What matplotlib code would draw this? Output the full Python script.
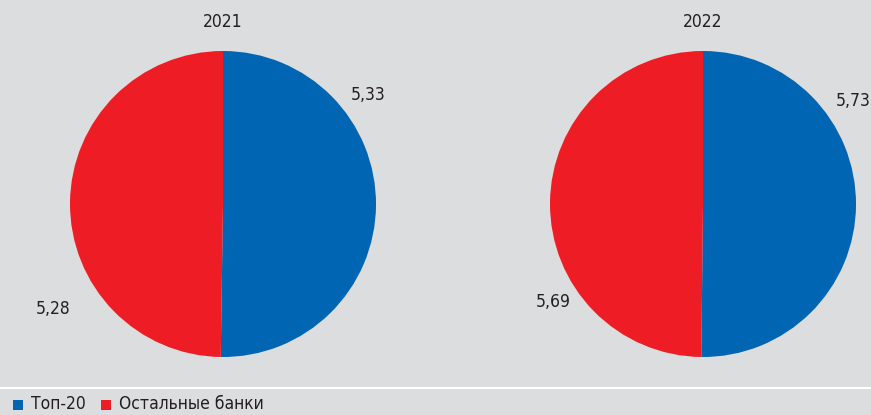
import matplotlib
matplotlib.use("Agg")
import matplotlib.pyplot as plt
from matplotlib.patches import Rectangle
from matplotlib import font_manager as fm

years = ["2021", "2022"]
series = ["Топ-20", "Остальные банки"]
top20 = [5.33, 5.73]
others = [5.28, 5.69]
colors = ["#0065b3", "#ee1c25"]
bg = "#dcdddf"

W, H = 871, 415
fig = plt.figure(figsize=(W / 100, H / 100), dpi=100)
fig.patch.set_facecolor(bg)
names = {f.name for f in fm.fontManager.ttflist}
fam = [n for n in ['Liberation Sans Narrow', 'DejaVu Sans Condensed', 'DejaVu Sans'] if n in names]
plt.rcParams['font.family'] = fam
plt.rcParams['font.stretch'] = 'condensed'

def px_axes(cx, cy, r):
    return fig.add_axes([(cx - r) / W, 1 - (cy + r) / H, 2 * r / W, 2 * r / H])

centers = [(223, 204), (703, 204)]
R = 153
label_pos = [((368, 95), (53, 309)), ((853, 101), (553, 302))]

for i, yr in enumerate(years):
    cx, cy = centers[i]
    ax = px_axes(cx, cy, R)
    vals = [top20[i], others[i]]
    ax.pie(vals, colors=colors, startangle=90, counterclock=False, radius=1.0,
           wedgeprops=dict(linewidth=0))
    ax.set_xlim(-1, 1)
    ax.set_ylim(-1, 1)
    ax.set_aspect('equal')
    ax.axis('off')
    fig.text(cx / W, 1 - 22 / H, yr, ha='center', va='center', fontsize=12.5, color='#231f20')
    for (lx, ly), v in zip(label_pos[i], vals):
        fig.text(lx / W, 1 - ly / H, f"{v:.2f}".replace('.', ','), ha='center', va='center',
                 fontsize=12.5, color='#231f20')

# separator line
fig.add_artist(plt.Line2D([0, 1], [1 - 388 / H, 1 - 388 / H], color='white', linewidth=1.5,
                          transform=fig.transFigure))

# legend
leg_items = [(13, 31, series[0], colors[0]), (101, 119, series[1], colors[1])]
for sx, tx, name, c in leg_items:
    fig.add_artist(Rectangle((sx / W, 1 - 410 / H), 10 / W, 10 / H, color=c,
                             transform=fig.transFigure, linewidth=0))
    fig.text(tx / W, 1 - 404 / H, name, ha='left', va='center', fontsize=12.5, color='#231f20')

fig.savefig("out.png", dpi=100, facecolor=bg)
